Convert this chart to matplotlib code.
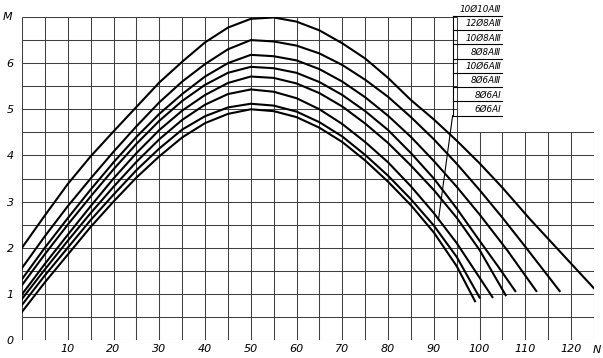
import matplotlib.pyplot as plt
import numpy as np

# Interaction curves M(N) (top curve first)
labels = ["10Ø10AⅢ", "12Ø8AⅢ", "10Ø8AⅢ", "8Ø8AⅢ",
          "10Ø6AⅢ", "8Ø6AⅢ", "8Ø6AⅠ", "6Ø6AⅠ"]

n1 = [0, 5, 10, 15, 20, 25, 30, 35, 40, 45, 50, 55, 60, 65, 70, 75, 80, 85, 90, 95, 100, 105, 111, 118, 125]
m1 = [2.0, 2.7, 3.38, 3.98, 4.52, 5.05, 5.58, 6.03, 6.45, 6.77, 6.96, 6.99, 6.9, 6.71, 6.43, 6.1,
      5.68, 5.2, 4.78, 4.32, 3.83, 3.3, 2.62, 1.87, 1.12]

n2 = [0, 5, 10, 15, 20, 25, 30, 35, 40, 45, 50, 55, 60, 65, 70, 75, 80, 85, 90, 95, 100, 105, 110, 117.5]
m2 = [1.56, 2.25, 2.9, 3.5, 4.08, 4.63, 5.15, 5.6, 5.98, 6.3, 6.5, 6.47, 6.38, 6.21, 5.96, 5.64,
      5.27, 4.83, 4.35, 3.82, 3.25, 2.65, 2.02, 1.06]

n3 = [0, 5, 10, 15, 20, 25, 30, 35, 40, 45, 50, 55, 60, 65, 70, 75, 80, 85, 90, 95, 100, 106, 112.4]
m3 = [1.32, 2.0, 2.64, 3.26, 3.85, 4.4, 4.9, 5.33, 5.71, 6.0, 6.18, 6.15, 6.06, 5.87, 5.6, 5.26,
      4.86, 4.4, 3.88, 3.32, 2.72, 1.95, 1.06]

n4 = [0, 5, 10, 15, 20, 25, 30, 35, 40, 45, 50, 55, 60, 65, 70, 75, 80, 85, 90, 95, 100, 104, 107.8]
m4 = [1.19, 1.86, 2.5, 3.11, 3.7, 4.25, 4.75, 5.18, 5.53, 5.79, 5.92, 5.89, 5.79, 5.59, 5.31, 4.96,
      4.55, 4.05, 3.5, 2.85, 2.15, 1.6, 1.06]

n5 = [0, 5, 10, 15, 20, 25, 30, 35, 40, 45, 50, 55, 60, 65, 70, 75, 80, 85, 90, 95, 100, 105.7]
m5 = [0.99, 1.65, 2.28, 2.9, 3.5, 4.05, 4.55, 4.97, 5.31, 5.57, 5.71, 5.68, 5.56, 5.35, 5.06, 4.69,
      4.27, 3.78, 3.25, 2.65, 1.95, 0.97]

n6 = [0, 5, 10, 15, 20, 25, 30, 35, 40, 45, 50, 55, 60, 65, 70, 75, 80, 85, 90, 95, 99, 102.8]
m6 = [0.89, 1.53, 2.15, 2.75, 3.32, 3.86, 4.35, 4.77, 5.1, 5.33, 5.43, 5.38, 5.24, 5.0, 4.68, 4.29,
      3.85, 3.33, 2.75, 2.1, 1.5, 0.93]

n7 = [0, 5, 10, 15, 20, 25, 30, 35, 40, 45, 50, 55, 60, 65, 70, 75, 80, 85, 90, 95, 100]
m7 = [0.76, 1.4, 2.0, 2.6, 3.15, 3.68, 4.15, 4.56, 4.85, 5.04, 5.12, 5.08, 4.95, 4.72, 4.41, 4.01,
      3.56, 3.05, 2.48, 1.8, 0.92]

n8 = [0, 5, 10, 15, 20, 25, 30, 35, 40, 45, 50, 55, 60, 65, 70, 75, 80, 85, 90, 95, 99]
m8 = [0.61, 1.25, 1.85, 2.45, 3.0, 3.52, 3.98, 4.39, 4.7, 4.9, 5.0, 4.96, 4.83, 4.6, 4.29, 3.89,
      3.43, 2.92, 2.33, 1.6, 0.84]

curves = [(n1, m1), (n2, m2), (n3, m3), (n4, m4),
          (n5, m5), (n6, m6), (n7, m7), (n8, m8)]

x_ticks = list(range(10, 121, 10))
y_ticks = list(range(0, 7))

fig = plt.figure(figsize=(6.03, 3.58), dpi=100)
ax = fig.add_axes([22 / 603, 1 - 340 / 358, 572 / 603, 323 / 358])
ax.set_xlim(0, 125)
ax.set_ylim(0, 7)
for s in ax.spines.values():
    s.set_visible(False)

grid_kw = dict(color="0.25", lw=0.75, solid_capstyle="butt")
# grid has a notch in the upper right corner where the legend sits
for x in range(0, 126, 5):
    top = 7 if x <= 95 else 4.5
    ax.plot([x, x], [0, top], **grid_kw)
for y in np.arange(0, 7.01, 0.5):
    right = 125 if y <= 4.5 else 95
    ax.plot([0, right], [y, y], **grid_kw)

for n, m in curves:
    ax.plot(n, m, color="black", lw=1.5, solid_joinstyle="round")

ax.set_xticks(x_ticks)
ax.set_yticks(y_ticks)
ax.tick_params(length=0, labelsize=8)
ax.tick_params(axis="x", pad=3)
ax.tick_params(axis="y", pad=6)
for t in ax.get_xticklabels() + ax.get_yticklabels():
    t.set_fontstyle("italic")
ax.annotate("M", xy=(0, 7), xytext=(-14, 0), textcoords="offset pixels",
            ha="center", va="center", fontsize=8, style="italic")
ax.annotate("N", xy=(125, 0), xytext=(3, -10), textcoords="offset pixels",
            ha="center", va="center", fontsize=8, style="italic")

# legend block: stacked underlined labels with a leader line
row_y = np.linspace(7.03, 4.86, len(labels))
x0, x1 = 94.1, 105.0
ax.plot([x0, x0], [row_y[0], row_y[-1]], color="black", lw=0.8, clip_on=False)
ax.plot([x0, 91.0], [row_y[-1], 2.6], color="black", lw=0.8)
for lab, yy in zip(labels, row_y):
    ax.plot([x0, x1], [yy, yy], color="black", lw=0.8, clip_on=False)
    ax.text(x1 - 0.3, yy + 0.04, lab, ha="right", va="bottom", fontsize=6.3,
            style="italic", clip_on=False)

fig.savefig("out.png", dpi=100)
